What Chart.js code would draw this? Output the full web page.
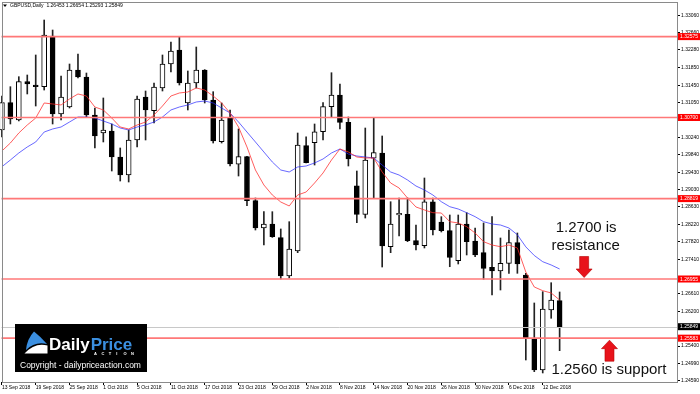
<!DOCTYPE html>
<html>
<head>
<meta charset="utf-8">
<title>GBPUSD,Daily</title>
<script src="https://cdn.jsdelivr.net/npm/chart.js@4.4.0/dist/chart.umd.min.js"></script>
<style>
html, body { margin: 0; padding: 0; background: #fff; }
#wrap { width: 700px; height: 394px; }
</style>
</head>
<body>
<div id="wrap"><canvas id="chart" width="700" height="394"></canvas></div>
<script>
// daily bars, 13 Sep - 14 Dec 2018
const days = ['13 Sep 2018','14 Sep 2018','17 Sep 2018','18 Sep 2018','19 Sep 2018','20 Sep 2018','21 Sep 2018','24 Sep 2018','25 Sep 2018','26 Sep 2018','27 Sep 2018','28 Sep 2018',
  '1 Oct 2018','2 Oct 2018','3 Oct 2018','4 Oct 2018','5 Oct 2018','8 Oct 2018','9 Oct 2018','10 Oct 2018','11 Oct 2018','12 Oct 2018','15 Oct 2018','16 Oct 2018','17 Oct 2018','18 Oct 2018','19 Oct 2018','22 Oct 2018','23 Oct 2018','24 Oct 2018','25 Oct 2018','26 Oct 2018','29 Oct 2018','30 Oct 2018','31 Oct 2018',
  '1 Nov 2018','2 Nov 2018','5 Nov 2018','6 Nov 2018','7 Nov 2018','8 Nov 2018','9 Nov 2018','12 Nov 2018','13 Nov 2018','14 Nov 2018','15 Nov 2018','16 Nov 2018','19 Nov 2018','20 Nov 2018','21 Nov 2018','22 Nov 2018','23 Nov 2018','26 Nov 2018','27 Nov 2018','28 Nov 2018','29 Nov 2018','30 Nov 2018',
  '3 Dec 2018','4 Dec 2018','5 Dec 2018','6 Dec 2018','7 Dec 2018','10 Dec 2018','11 Dec 2018','12 Dec 2018','13 Dec 2018','14 Dec 2018'];

const open = [1.30410,1.31043,1.30642,1.31530,1.31453,1.31414,1.32589,1.30781,1.30943,1.31801,
  1.31639,1.30758,1.30340,1.30387,1.29784,1.29366,1.30178,1.31175,1.30857,1.31384,
  1.31940,1.32265,1.31036,1.31500,1.31801,1.31105,1.30139,1.30688,1.29615,1.29791,
  1.28771,1.28138,1.28231,1.27913,1.27025,1.27604,1.30046,1.30115,1.30370,1.30950,
  1.31221,1.30588,1.29118,1.28455,1.29754,1.29877,1.27704,1.28439,1.28455,1.27843,
  1.27727,1.28747,1.28277,1.28075,1.27379,1.28231,1.27836,1.27565,1.27226,1.27140,
  1.27319,1.27797,1.27048,1.25580,1.24845,1.26236,1.26453];
const high = [1.31198,1.31414,1.31646,1.31685,1.32149,1.32960,1.32728,1.31662,1.31940,1.32172,
  1.31731,1.30920,1.31152,1.30549,1.29993,1.30410,1.31198,1.31314,1.31500,1.32149,
  1.32450,1.32566,1.31778,1.32334,1.31810,1.31298,1.31036,1.30874,1.30433,1.29800,
  1.28833,1.28516,1.28516,1.28115,1.28284,1.30340,1.30254,1.30549,1.31043,1.31738,
  1.31476,1.30711,1.29459,1.30456,1.30695,1.30271,1.28747,1.28833,1.28833,1.28207,
  1.29297,1.28833,1.28400,1.28439,1.28439,1.28492,1.28138,1.28254,1.28400,1.27906,
  1.28091,1.28022,1.27087,1.26399,1.26661,1.26869,1.26654];
const low = [1.30248,1.30549,1.30620,1.31245,1.30966,1.31337,1.30549,1.30642,1.30920,1.31616,
  1.30711,1.29993,1.30132,1.29459,1.29227,1.29204,1.30016,1.30178,1.30572,1.31314,
  1.31755,1.31453,1.30874,1.31384,1.31036,1.30108,1.30108,1.29575,1.29343,1.28655,
  1.28091,1.27743,1.27920,1.26955,1.26978,1.27565,1.29645,1.29598,1.30178,1.30718,
  1.30433,1.29575,1.28261,1.28369,1.28826,1.27233,1.27565,1.27952,1.27820,1.27628,
  1.27674,1.27975,1.28045,1.27240,1.27303,1.27512,1.27472,1.26948,1.26584,1.26700,
  1.27087,1.27087,1.25077,1.24806,1.24776,1.26044,1.25293];
const close = [1.31043,1.30665,1.31530,1.31476,1.31414,1.32612,1.30781,1.31175,1.31801,1.31639,
  1.30758,1.30271,1.30410,1.29784,1.29366,1.30178,1.31129,1.30874,1.31407,1.31940,
  1.32242,1.31500,1.31500,1.31801,1.31105,1.30155,1.30642,1.29622,1.29791,1.28771,
  1.28138,1.28231,1.27936,1.27025,1.27651,1.30062,1.29652,1.30370,1.30950,1.31221,
  1.30588,1.29737,1.28455,1.29714,1.29884,1.27720,1.28231,1.28478,1.27843,1.27743,
  1.28747,1.28091,1.28075,1.27458,1.28231,1.27820,1.27512,1.27203,1.27140,1.27319,
  1.27797,1.27303,1.25580,1.24845,1.26260,1.26468,1.25849];

// moving averages
const maFast = [1.29923,1.30108,1.30340,1.30526,1.30688,1.31036,1.31013,1.30990,1.31129,1.31245,
  1.31198,1.30943,1.30874,1.30688,1.30479,1.30433,1.30526,1.30595,1.30758,1.30966,
  1.31198,1.31268,1.31291,1.31384,1.31337,1.31198,1.31036,1.30804,1.30479,1.30016,
  1.29482,1.29135,1.28903,1.28740,1.28648,1.28903,1.28972,1.29181,1.29413,1.29714,
  1.29969,1.29900,1.29784,1.29761,1.29761,1.29436,1.29181,1.29065,1.28833,1.28625,
  1.28555,1.28492,1.28485,1.28284,1.28254,1.28168,1.28022,1.27820,1.27743,1.27704,
  1.27743,1.27674,1.27117,1.26770,1.26684,1.26631,1.26468];
const maSlow = [1.29559,1.29714,1.29877,1.30016,1.30132,1.30363,1.30433,1.30479,1.30595,1.30711,
  1.30711,1.30688,1.30619,1.30549,1.30456,1.30410,1.30479,1.30526,1.30595,1.30711,
  1.30874,1.30943,1.30990,1.31059,1.31082,1.31036,1.30920,1.30804,1.30595,1.30363,
  1.30132,1.29900,1.29668,1.29482,1.29436,1.29552,1.29575,1.29645,1.29737,1.29877,
  1.29969,1.29853,1.29807,1.29784,1.29761,1.29598,1.29436,1.29366,1.29251,1.29111,
  1.29019,1.28903,1.28747,1.28631,1.28578,1.28492,1.28400,1.28284,1.28230,1.28207,
  1.28138,1.27980,1.27700,1.27500,1.27356,1.27280,1.27187];

const levels = [1.32575, 1.30700, 1.28819, 1.26955, 1.25583];
const lastPrice = 1.25849;
const yTicks = [1.33060,1.32660,1.32280,1.31850,1.31450,1.31050,1.30640,1.30240,1.29840,1.29430,
  1.29030,1.28630,1.28220,1.27820,1.27410,1.26610,1.26200,1.25400,1.24990,1.24590];

const resistanceLevel = 1.26955, supportLevel = 1.25583;
const resistanceText = ['1.2700 is', 'resistance'];
const supportText = '1.2560 is support';
const title = 'GBPUSD,Daily  1.26453 1.26654 1.25293 1.25849';

const FONT = 'Arial, "Liberation Sans", sans-serif';
Chart.defaults.font.family = FONT;
Chart.defaults.color = '#000';

const wicks = days.map((d, i) => ({x: i, y: [low[i], high[i]]}));
const bodies = days.map((d, i) => ({x: i, y: [Math.min(open[i], close[i]), Math.max(open[i], close[i])]}));
const bodyFill = days.map((d, i) => close[i] >= open[i] ? '#ffffff' : '#000000');

function arrow(ctx, cx, tipY, dir) {
    // dir 1: points down, -1: points up
    const len = 21, headH = 8.5, headW = 16, shaftW = 9;
    const baseY = tipY - dir * headH, endY = tipY - dir * len;
    ctx.save();
    ctx.beginPath();
    ctx.moveTo(cx, tipY);
    ctx.lineTo(cx - headW / 2, baseY);
    ctx.lineTo(cx - shaftW / 2, baseY);
    ctx.lineTo(cx - shaftW / 2, endY);
    ctx.lineTo(cx + shaftW / 2, endY);
    ctx.lineTo(cx + shaftW / 2, baseY);
    ctx.lineTo(cx + headW / 2, baseY);
    ctx.closePath();
    ctx.fillStyle = '#e8131b';
    ctx.fill();
    ctx.strokeStyle = '#b50000';
    ctx.lineWidth = 0.6;
    ctx.stroke();
    ctx.restore();
}

function priceTag(ctx, area, yPix, text, bg) {
    ctx.fillStyle = bg;
    ctx.fillRect(area.right + 1, yPix - 3.5, 22, 7);
    ctx.fillStyle = '#fff';
    ctx.font = '5px ' + FONT;
    ctx.textAlign = 'left';
    ctx.textBaseline = 'middle';
    ctx.fillText(text, area.right + 3, yPix + 0.3);
}

function drawLogo(ctx) {
    ctx.fillStyle = '#000';
    ctx.fillRect(15, 324, 132, 48);
    // swoosh icon
    ctx.fillStyle = '#3b8fe0';
    ctx.beginPath();
    ctx.moveTo(26, 350);
    ctx.quadraticCurveTo(27, 339, 34, 331.5);
    ctx.quadraticCurveTo(41, 337, 47, 344);
    ctx.quadraticCurveTo(35, 341, 26, 350);
    ctx.fill();
    ctx.fillStyle = '#fff';
    ctx.beginPath();
    ctx.moveTo(24.5, 353.5);
    ctx.quadraticCurveTo(35, 342, 47.5, 345.5);
    ctx.lineTo(47.5, 353.5);
    ctx.closePath();
    ctx.fill();
    ctx.textBaseline = 'alphabetic';
    ctx.textAlign = 'left';
    ctx.font = 'bold 17px ' + FONT;
    ctx.fillStyle = '#fff';
    ctx.fillText('Daily', 49, 349.5);
    const w = ctx.measureText('Daily').width;
    ctx.fillStyle = '#3b8fe0';
    ctx.fillText('Price', 49 + w + 1, 349.5);
    ctx.fillStyle = '#fff';
    ctx.font = 'bold 4px ' + FONT;
    const act = 'ACTION';
    for (let i = 0; i < act.length; i++) {
        ctx.fillText(act[i], 94 + i * 7.4, 355);
    }
    ctx.font = '8.5px ' + FONT;
    ctx.fillText('Copyright - dailypriceaction.com', 20, 367.5);
}

const overlay = {
    id: 'overlay',
    afterDatasetsDraw(chart) {
        const {ctx, chartArea: a, scales: {y}} = chart;
        ctx.save();
        // last price line
        let yp = Math.round(y.getPixelForValue(lastPrice)) + 0.5;
        ctx.strokeStyle = '#c8c8c8';
        ctx.lineWidth = 1;
        ctx.beginPath();
        ctx.moveTo(a.left, yp);
        ctx.lineTo(a.right, yp);
        ctx.stroke();
        // horizontal levels
        ctx.strokeStyle = '#ff7878';
        ctx.lineWidth = 1.6;
        levels.forEach(v => {
            const p = y.getPixelForValue(v);
            ctx.beginPath();
            ctx.moveTo(a.left, p);
            ctx.lineTo(a.right, p);
            ctx.stroke();
        });
        // frame
        ctx.strokeStyle = '#8a8a8a';
        ctx.lineWidth = 1;
        ctx.strokeRect(Math.round(a.left) + 0.5, Math.round(a.top) + 0.5,
            Math.round(a.right) - Math.round(a.left), Math.round(a.bottom) - Math.round(a.top));
        ctx.restore();
    },
    afterDraw(chart) {
        const {ctx, chartArea: a, scales: {x, y}} = chart;
        ctx.save();
        levels.forEach(v => priceTag(ctx, a, y.getPixelForValue(v), v.toFixed(5), '#ff0000'));
        priceTag(ctx, a, y.getPixelForValue(lastPrice), lastPrice.toFixed(5), '#000000');

        drawLogo(ctx);

        // title
        ctx.fillStyle = '#000';
        ctx.beginPath();
        ctx.moveTo(3, 4.5); ctx.lineTo(7, 4.5); ctx.lineTo(5, 7);
        ctx.closePath();
        ctx.fill();
        ctx.font = '5px ' + FONT;
        ctx.textAlign = 'left';
        ctx.textBaseline = 'middle';
        ctx.fillText(title, 10, 5.8);

        // annotations
        const rx = x.getPixelForValue(68.9);
        const rTip = y.getPixelForValue(resistanceLevel) - 1.5;
        arrow(ctx, rx, rTip, 1);
        const sx = x.getPixelForValue(71.9);
        const sTip = y.getPixelForValue(supportLevel) + 2;
        arrow(ctx, sx, sTip, -1);

        ctx.fillStyle = '#111';
        ctx.font = '15px ' + FONT;
        ctx.textAlign = 'center';
        ctx.textBaseline = 'alphabetic';
        ctx.fillText(resistanceText[1], rx + 1.5, rTip - 27);
        ctx.fillText(resistanceText[0], rx + 2, rTip - 45.5);
        ctx.fillText(supportText, sx - 0.5, sTip + 34);
        ctx.restore();
    }
};

const ctx = document.getElementById('chart').getContext('2d');
new Chart(ctx, {
    type: 'bar',
    data: {
        datasets: [
            {type: 'line', data: days.map((d, i) => ({x: i, y: maFast[i]})), borderColor: 'rgba(255,40,40,0.75)',
             borderWidth: 1, pointRadius: 0, tension: 0, order: 0},
            {type: 'line', data: days.map((d, i) => ({x: i, y: maSlow[i]})), borderColor: 'rgba(40,40,255,0.7)',
             borderWidth: 1, pointRadius: 0, tension: 0, order: 0},
            {data: bodies, backgroundColor: bodyFill, borderColor: '#000', borderWidth: 1, borderSkipped: false,
             barThickness: 5, grouped: false, order: 1, clip: false},
            {data: wicks, backgroundColor: '#222', borderWidth: 0, barThickness: 1, grouped: false, order: 2, clip: false}
        ]
    },
    options: {
        responsive: false,
        animation: false,
        events: [],
        layout: {padding: {top: 1.5, left: 1.5, right: 0, bottom: 0}},
        plugins: {legend: {display: false}, tooltip: {enabled: false}},
        scales: {
            x: {
                type: 'linear',
                min: -0.05,
                max: 79.89,
                offset: false,
                bounds: 'data',
                border: {display: false},
                grid: {drawOnChartArea: false, offset: false, tickLength: 3, tickColor: '#000', tickWidth: 1},
                afterBuildTicks: axis => {
                    axis.ticks = days.map((d, i) => i).filter(i => i % 4 === 0).map(v => ({value: v}));
                },
                afterFit: axis => {
                    axis.height = 12;
                    axis.paddingLeft = 0;
                    axis.paddingRight = 0;
                },
                ticks: {
                    autoSkip: false, maxRotation: 0, minRotation: 0, align: 'start', padding: 0,
                    font: {size: 5}, color: '#000',
                    callback: v => days[v]
                }
            },
            y: {
                position: 'right',
                min: 1.245668,
                max: 1.333892,
                beginAtZero: false,
                bounds: 'data',
                border: {display: false},
                grid: {drawOnChartArea: false, tickLength: 3, tickColor: '#000', tickWidth: 1},
                afterBuildTicks: axis => {
                    axis.ticks = yTicks.map(v => ({value: v}));
                },
                afterFit: axis => {
                    axis.width = 23;
                    axis.paddingTop = 0;
                    axis.paddingBottom = 0;
                },
                ticks: {
                    padding: 1, font: {size: 5}, color: '#000',
                    callback: v => v.toFixed(5)
                }
            }
        }
    },
    plugins: [overlay]
});
</script>
</body>
</html>
